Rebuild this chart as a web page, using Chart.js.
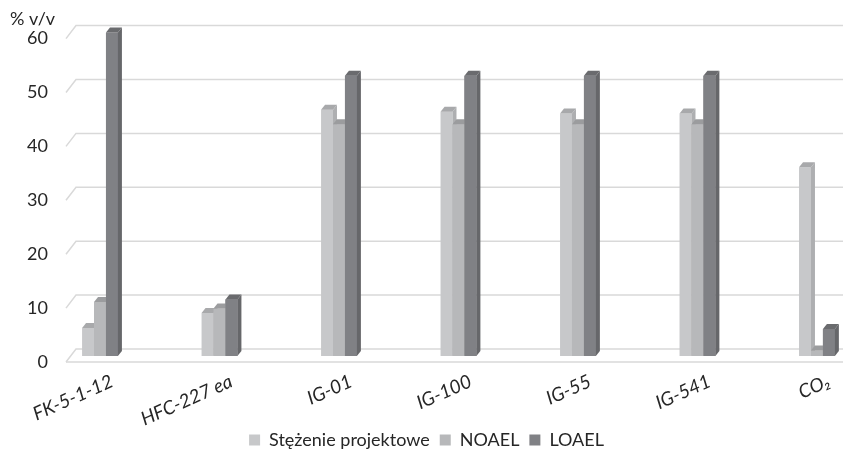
<!DOCTYPE html>
<html>
<head>
<title>Stężenia środków gaśniczych</title>
<script src="https://cdn.jsdelivr.net/npm/chart.js"></script>
<style>
  body { margin:0; background:#fff; }
  #wrap { width:845px; height:453px; }
</style>
</head>
<body>
<div id="wrap"><canvas id="bars"></canvas></div>
<script>
// values
const categories = ['FK-5-1-12', 'HFC-227 ea', 'IG-01', 'IG-100', 'IG-55', 'IG-541', 'CO₂'];
const designConc = [5.2, 8, 45.7, 45.3, 45, 45, 35];
const noael = [10, 8.8, 43, 43, 43, 43, 1];
const loael = [60, 10.5, 52, 52, 52, 52, 5];
const yTicks = [0, 10, 20, 30, 40, 50, 60];
const seriesNames = ['Stężenie projektowe', 'NOAEL', 'LOAEL'];

// front / top / side shades for fake 3D
const shades = [
  {front:'#c7c8ca', top:'#a8a9ab', side:'#aeafb1'},
  {front:'#b7b8ba', top:'#9b9c9e', side:'#a2a3a5'},
  {front:'#808185', top:'#6a6b6e', side:'#66676a'}
];
const DX = 4, DY = 5;      // bar depth
const WALL = 7;            // back wall offset above bar plane
const FRONT = 6;           // front edge offset below bar plane
const SLANT = 10;

function pts(arr){ return arr.map((v,i)=>({x:i, y:v})); }

const wall = {
  id:'wall',
  beforeDatasetsDraw(chart){
    const ctx = chart.ctx, y = chart.scales.y, a = chart.chartArea;
    ctx.save();
    ctx.strokeStyle = '#d9d9d9';
    ctx.lineWidth = 1.5;
    yTicks.forEach(v=>{
      const py = y.getPixelForValue(v);
      ctx.beginPath();
      ctx.moveTo(a.left, py + FRONT);
      ctx.lineTo(a.left + SLANT, py - WALL);
      ctx.lineTo(a.right, py - WALL);
      ctx.stroke();
    });
    const p0 = y.getPixelForValue(0) + FRONT;
    ctx.beginPath();
    ctx.moveTo(a.left, p0);
    ctx.lineTo(a.right, p0);
    ctx.stroke();
    ctx.restore();
  },
  afterDatasetsDraw(chart){
    const ctx = chart.ctx;
    const metas = [0,1,2].map(i=>chart.getDatasetMeta(i));
    ctx.save();
    categories.forEach((c, i)=>{
      metas.forEach((m, k)=>{
        const b = m.data[i].getProps(['x','y','base','width'], true);
        const l = b.x - b.width/2, r = b.x + b.width/2;
        const s = shades[k];
        // side
        ctx.fillStyle = s.side;
        ctx.beginPath();
        ctx.moveTo(r, b.y); ctx.lineTo(r+DX, b.y-DY);
        ctx.lineTo(r+DX, b.base-DY); ctx.lineTo(r, b.base);
        ctx.closePath(); ctx.fill();
        // top
        ctx.fillStyle = s.top;
        ctx.beginPath();
        ctx.moveTo(l, b.y); ctx.lineTo(l+DX, b.y-DY);
        ctx.lineTo(r+DX, b.y-DY); ctx.lineTo(r, b.y);
        ctx.closePath(); ctx.fill();
        // next bar's front covers this side
        if (k < 2) {
          const n = metas[k+1].data[i].getProps(['x','y','base','width'], true);
          ctx.fillStyle = shades[k+1].front;
          ctx.fillRect(n.x - n.width/2, n.y, n.width, n.base - n.y);
        }
      });
    });
    ctx.restore();
  }
};

const font = 'Lato, "Open Sans", sans-serif';

new Chart(document.getElementById('bars'), {
  type:'bar',
  data:{
    datasets:[
      {label:seriesNames[0], data:pts(designConc), backgroundColor:shades[0].front},
      {label:seriesNames[1], data:pts(noael), backgroundColor:shades[1].front},
      {label:seriesNames[2], data:pts(loael), backgroundColor:shades[2].front}
    ]
  },
  options:{
    responsive:true,
    maintainAspectRatio:false,
    animation:false,
    categoryPercentage:0.3,
    barPercentage:1,
    layout:{padding:{left:10, right:2, top:0, bottom:-6}},
    scales:{
      x:{
        type:'linear',
        offset:false,
        min:-0.2845, max:6.218,
        grid:{display:false, drawTicks:false},
        border:{display:false},
        afterBuildTicks(s){ s.ticks = categories.map((c,i)=>({value:i})); },
        afterFit(s){
          s.height = 65;
          s.paddingLeft = 0; s.paddingRight = 0;
          s._computeLabelArea = () => null;  // let slanted labels run past the axis box
        },
        ticks:{
          autoSkip:false, minRotation:24, maxRotation:24,
          padding:14, labelOffset:12,
          color:'#262626',
          font:{family:font, size:19, style:'italic'},
          callback:(v)=>categories[v] ?? ''
        }
      },
      y:{
        min:0, max:60,
        grid:{display:false, drawTicks:false},
        border:{display:false},
        afterFit(s){ s.width = 56; },
        afterBuildTicks(s){ s.ticks = yTicks.map(v=>({value:v})); },
        ticks:{
          padding:18, labelOffset:FRONT,
          color:'#262626',
          font:{family:font, size:18}
        }
      }
    },
    plugins:{
      title:{
        display:true, text:'% v/v', align:'start',
        color:'#262626',
        font:{family:font, size:18, weight:'normal'},
        padding:{top:8, bottom:3}
      },
      legend:{
        position:'bottom',
        labels:{
          boxWidth:11, boxHeight:11, padding:10,
          color:'#262626',
          font:{family:font, size:18}
        }
      },
      tooltip:{enabled:false}
    }
  },
  plugins:[wall]
});
</script>
</body>
</html>
